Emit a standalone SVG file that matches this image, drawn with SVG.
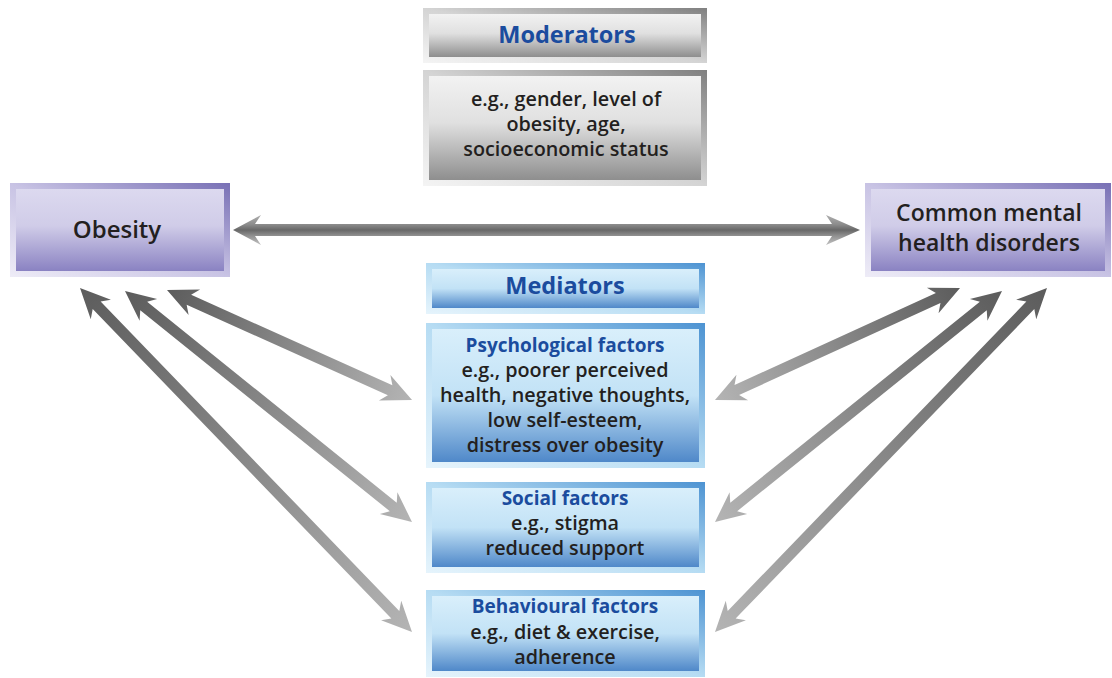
<svg xmlns="http://www.w3.org/2000/svg" width="1112" height="678" viewBox="0 0 1112 678">
<defs>
<style>
text{font-family:"Open Sans","Liberation Sans",sans-serif;text-anchor:middle}
.t{font-weight:700;fill:#1b4c9e;font-size:23.5px}
.st{font-weight:700;fill:#1b4c9e;font-size:19px}
.b{font-weight:600;fill:#231f20;font-size:19.8px}
.n{font-weight:600;fill:#231f20;font-size:24px}
.n2{font-weight:600;fill:#231f20;font-size:23px}
</style>
<linearGradient id="gFrame" x1="0" y1="1" x2="1" y2="0"><stop offset="0" stop-color="#f4f4f4"/><stop offset="0.5" stop-color="#d4d4d4"/><stop offset="1" stop-color="#808080"/></linearGradient>
<linearGradient id="gIn" x1="0" y1="0" x2="0" y2="1"><stop offset="0" stop-color="#f2f2f2"/><stop offset="0.45" stop-color="#e0e0e0"/><stop offset="1" stop-color="#8e8e8e"/></linearGradient>
<linearGradient id="pFrame" x1="0" y1="1" x2="1" y2="0"><stop offset="0" stop-color="#eeecf7"/><stop offset="0.5" stop-color="#c8c3e4"/><stop offset="1" stop-color="#7870b5"/></linearGradient>
<linearGradient id="pIn" x1="0" y1="0" x2="0" y2="1"><stop offset="0" stop-color="#dcd9ef"/><stop offset="0.45" stop-color="#d0cce8"/><stop offset="1" stop-color="#8a82c2"/></linearGradient>
<linearGradient id="bFrame" x1="0" y1="1" x2="1" y2="0"><stop offset="0" stop-color="#e6f4fc"/><stop offset="0.5" stop-color="#b6dcf3"/><stop offset="1" stop-color="#4d93d2"/></linearGradient>
<linearGradient id="bIn" x1="0" y1="0" x2="0" y2="1"><stop offset="0" stop-color="#d9effb"/><stop offset="0.5" stop-color="#c2e2f6"/><stop offset="1" stop-color="#4f88c9"/></linearGradient>
<linearGradient id="aD" x1="0" y1="0" x2="1" y2="0"><stop offset="0" stop-color="#5c5c5c"/><stop offset="1" stop-color="#b4b4b4"/></linearGradient>
<linearGradient id="aH" gradientUnits="userSpaceOnUse" x1="0" y1="217" x2="0" y2="243"><stop offset="0" stop-color="#a8a8a8"/><stop offset="0.3" stop-color="#8a8a8a"/><stop offset="0.5" stop-color="#686868"/><stop offset="0.7" stop-color="#8c8c8c"/><stop offset="1" stop-color="#b8b8b8"/></linearGradient>
</defs>

<g id="connectors">
<polygon fill="url(#aH)" points="233,230 261,215 255,224 832,224 826,215 860,230 826,245 832,236 255,236 261,245"/>
<g fill="url(#aD)">
<polygon transform="translate(167,290) rotate(24.18)" points="0,0 30,-14 24,-5.5 244.6,-5.5 238.6,-14 268.6,0 238.6,14 244.6,5.5 24,5.5 30,14"/>
<polygon transform="translate(125,291) rotate(38.83)" points="0,0 30,-14 24,-5.5 344.4,-5.5 338.4,-14 368.4,0 338.4,14 344.4,5.5 24,5.5 30,14"/>
<polygon transform="translate(80,288) rotate(46.02)" points="0,0 30,-14 24,-5.5 454.1,-5.5 448.1,-14 478.1,0 448.1,14 454.1,5.5 24,5.5 30,14"/>
<polygon transform="translate(960,288) rotate(155.43)" points="0,0 30,-14 24,-5.5 245.4,-5.5 239.4,-14 269.4,0 239.4,14 245.4,5.5 24,5.5 30,14"/>
<polygon transform="translate(1002,291) rotate(141.17)" points="0,0 30,-14 24,-5.5 344.4,-5.5 338.4,-14 368.4,0 338.4,14 344.4,5.5 24,5.5 30,14"/>
<polygon transform="translate(1047,288) rotate(133.98)" points="0,0 30,-14 24,-5.5 454.1,-5.5 448.1,-14 478.1,0 448.1,14 454.1,5.5 24,5.5 30,14"/>
</g>
</g>

<g id="moderators-title">
<rect x="423" y="8" width="284" height="55" fill="url(#gFrame)"/>
<rect x="429" y="14" width="272" height="43" fill="url(#gIn)"/>
<text class="t" x="567" y="43">Moderators</text>
</g>
<g id="moderators-body">
<rect x="423" y="70" width="284" height="116" fill="url(#gFrame)"/>
<rect x="429" y="76" width="272" height="104" fill="url(#gIn)"/>
<text class="b" x="566" y="106">e.g., gender, level of</text>
<text class="b" x="566" y="131">obesity, age,</text>
<text class="b" x="566" y="156">socioeconomic status</text>
</g>

<g id="obesity">
<rect x="10" y="183" width="220" height="94" fill="url(#pFrame)"/>
<rect x="16" y="189" width="208" height="82" fill="url(#pIn)"/>
<text class="n" x="117" y="238">Obesity</text>
</g>

<g id="mental-health">
<rect x="865" y="183" width="246" height="94" fill="url(#pFrame)"/>
<rect x="871" y="189" width="234" height="82" fill="url(#pIn)"/>
<text class="n2" x="989" y="221">Common mental</text>
<text class="n2" x="989" y="251">health disorders</text>
</g>

<g id="mediators-title">
<rect x="426" y="263" width="279" height="51" fill="url(#bFrame)"/>
<rect x="432" y="269" width="267" height="39" fill="url(#bIn)"/>
<text class="t" x="565" y="294">Mediators</text>
</g>

<g id="psychological">
<rect x="426" y="323" width="279" height="145" fill="url(#bFrame)"/>
<rect x="432" y="329" width="267" height="133" fill="url(#bIn)"/>
<text class="st" x="565" y="352">Psychological factors</text>
<text class="b" x="565" y="377">e.g., poorer perceived</text>
<text class="b" x="565" y="402">health, negative thoughts,</text>
<text class="b" x="565" y="427">low self-esteem,</text>
<text class="b" x="565" y="452">distress over obesity</text>
</g>

<g id="social">
<rect x="426" y="482" width="279" height="91" fill="url(#bFrame)"/>
<rect x="432" y="488" width="267" height="79" fill="url(#bIn)"/>
<text class="st" x="565" y="505">Social factors</text>
<text class="b" x="565" y="530">e.g., stigma</text>
<text class="b" x="565" y="555">reduced support</text>
</g>

<g id="behavioural">
<rect x="426" y="590" width="279" height="87" fill="url(#bFrame)"/>
<rect x="432" y="596" width="267" height="75" fill="url(#bIn)"/>
<text class="st" x="565" y="613">Behavioural factors</text>
<text class="b" x="565" y="639">e.g., diet &amp; exercise,</text>
<text class="b" x="565" y="664">adherence</text>
</g>
</svg>
